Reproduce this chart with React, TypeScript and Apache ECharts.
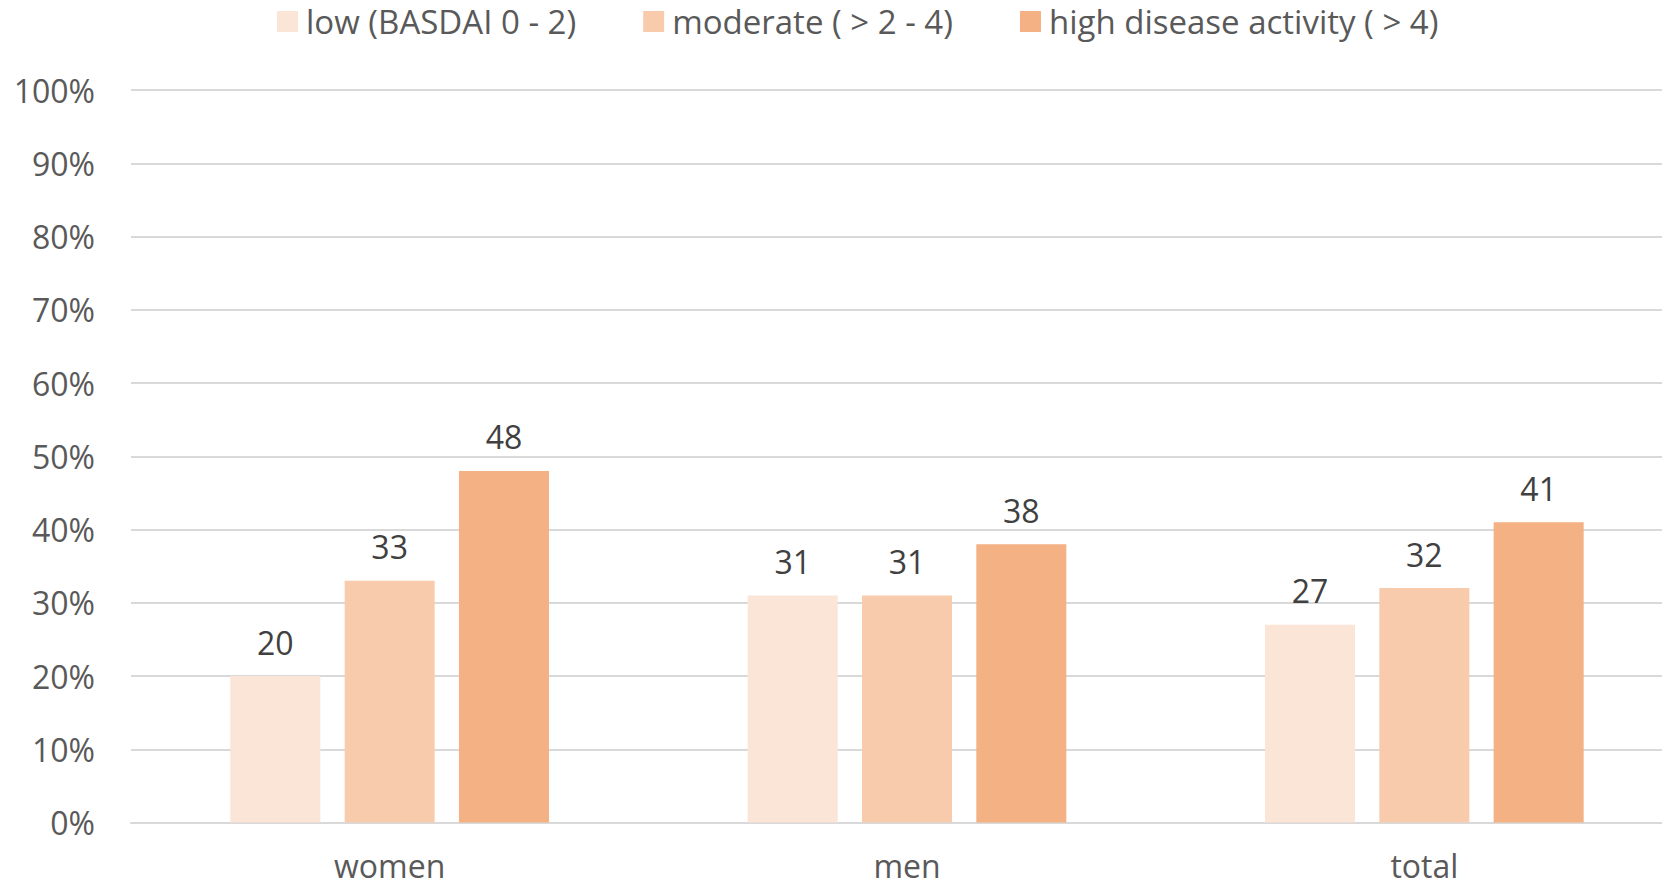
import React, { useEffect, useRef } from "react";
import * as echarts from "echarts";

const categories = ["women", "men", "total"];
const seriesNames = ["low (BASDAI 0 - 2)", "moderate ( > 2 - 4)", "high disease activity ( > 4)"];
const lowValues = [20, 31, 27];
const moderateValues = [33, 31, 32];
const highValues = [48, 38, 41];
const colors = ["#FBE5D6", "#F8CBAD", "#F4B183"];

export default function App() {
  const ref = useRef<HTMLDivElement>(null);
  useEffect(() => {
    if (!ref.current) return;
    const chart = echarts.init(ref.current, undefined, { renderer: "svg" });
    const font = "'Open Sans', sans-serif";
    const mk = (name: string, data: number[], color: string) => ({
      name,
      type: "bar",
      data,
      itemStyle: { color },
      barGap: "27%",
      barCategoryGap: "38.4%",
      label: {
        show: true,
        position: "top",
        distance: 18,
        color: "#404040",
        fontSize: 32,
        fontFamily: font,
      },
    });
    chart.setOption({
      animation: false,
      textStyle: { fontFamily: font },
      legend: {
        top: 0,
        left: 272,
        itemWidth: 21,
        itemHeight: 21,
        itemGap: 67,
        icon: "rect",
        textStyle: { color: "#595959", fontSize: 33, fontFamily: font, padding: [0, 0, 0, 3] },
        data: seriesNames,
      },
      grid: { left: 131, right: 7, top: 90, bottom: 64.5, containLabel: false },
      xAxis: {
        type: "category",
        data: categories,
        axisTick: { show: false },
        axisLine: { lineStyle: { color: "#D9D9D9", width: 2 } },
        axisLabel: { color: "#595959", fontSize: 32, lineHeight: 26, fontFamily: font, margin: 30 },
      },
      yAxis: {
        type: "value",
        min: 0,
        max: 100,
        interval: 10,
        axisLine: { show: false },
        axisTick: { show: false },
        splitLine: { lineStyle: { color: "#D9D9D9", width: 2 } },
        axisLabel: {
          formatter: "{value}%",
          color: "#595959",
          fontSize: 32,
          fontFamily: font,
          margin: 36,
        },
      },
      series: [
        mk(seriesNames[0], lowValues, colors[0]),
        mk(seriesNames[1], moderateValues, colors[1]),
        mk(seriesNames[2], highValues, colors[2]),
      ],
    });
    return () => chart.dispose();
  }, []);
  return (
    <div style={{ width: 1662, height: 887, position: "absolute", left: 0, top: 0, overflow: "hidden" }}>
      <div ref={ref} style={{ width: 1690, height: 887, position: "absolute", left: 0, top: 0 }} />
    </div>
  );
}
